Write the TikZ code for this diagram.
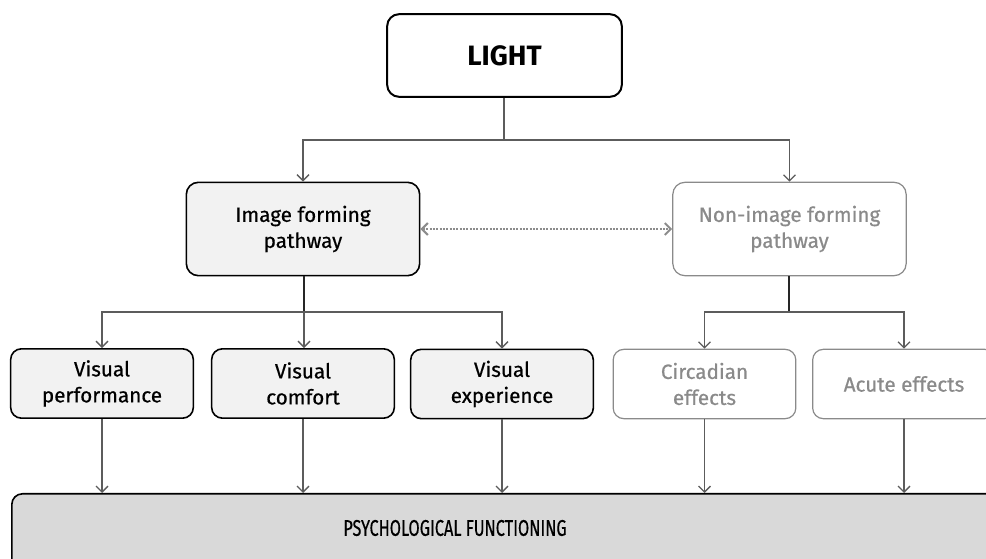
\documentclass[tikz,border=0pt]{standalone}
\usepackage{fontspec}
\setmainfont{Fira Sans}
\newfontfamily\medfont{Fira Sans}[FakeBold=0.6]
\newfontfamily\condfont{Fira Sans}[FakeStretch=0.72,FakeBold=0.4]
\usetikzlibrary{arrows.meta}

\definecolor{boxfill}{HTML}{F2F2F2}
\definecolor{psyfill}{HTML}{D9D9D9}
\definecolor{greytext}{HTML}{8A8A8A}
\definecolor{linegrey}{HTML}{5C5C5C}

\tikzset{every picture/.style={line width=0.75pt}}
\tikzset{
  topbox/.style={draw=black, line width=1.5pt, rounded corners=9pt, fill=white, inner sep=0pt,
    minimum width=176pt, minimum height=62pt, font=\fontsize{21}{24}\selectfont\bfseries},
  pathbox/.style={draw=black, line width=1.2pt, rounded corners=9pt, fill=boxfill, inner sep=0pt,
    minimum width=175pt, minimum height=70pt, align=center, font=\medfont\fontsize{15.5}{19.5}\selectfont},
  subbox/.style={pathbox, rounded corners=8pt, minimum width=137pt, minimum height=52pt},
  paleroot/.style={draw=greytext, line width=0.9pt, fill=white, text=greytext},
  psybox/.style={draw=black, line width=1.2pt, rounded corners=8pt, fill=psyfill, inner sep=0pt,
    minimum width=1000pt, minimum height=90pt},
  link/.style={draw=linegrey, line width=1pt, -{Straight Barb[length=4.5pt,width=9pt]}},
  plain/.style={draw=linegrey, line width=1pt},
  stem/.style={draw=black!85, line width=1.6pt},
  twoway/.style={draw=black!45, line width=1.5pt, densely dotted,
    {Straight Barb[length=4.5pt,width=9pt]}-{Straight Barb[length=4.5pt,width=9pt]}},
}

\begin{document}
\begin{tikzpicture}[x=0.75pt,y=0.75pt,yscale=-1,xscale=1]
	\useasboundingbox (0,0) rectangle (986,559);
	\clip (0,0) rectangle (986,559);
	% Top box
	\node [topbox] (light) at (504.5,55.5) {LIGHT};
	% Pathways
	\node [pathbox] (ifp) at (303,229) {Image forming\\pathway};
	\node [pathbox, paleroot] (nifp) at (789.5,229) {Non-image forming\\pathway};
	% Effects
	\node [subbox] (vperf) at (102,383.5) {Visual\\performance};
	\node [subbox] (vcomf) at (303,383.5) {Visual\\comfort};
	\node [subbox] (vexp) at (502,384) {Visual\\experience};
	\node [subbox, paleroot] (circ) at (704.5,384) {Circadian\\effects};
	\node [subbox, paleroot] (acute) at (904,384) {Acute effects};
	% Bottom box
	\node [psybox, anchor=north west] (psych) at (11,493) {};
	\node [font=\condfont\fontsize{17}{20}\selectfont, inner sep=0pt] (psytext) at (455,528) {PSYCHOLOGICAL FUNCTIONING};
	% Splits
	\coordinate (lsplit) at (504,140);
	\coordinate (isplit) at (304,312);
	\coordinate (nsplit) at (789,312);
	% Light to pathways
	\draw [plain] (light.south -| lsplit) -- (lsplit);
	\draw [link] (lsplit) -| (ifp.north);
	\draw [link] (lsplit) -| (nifp.north);
	\draw [twoway] (ifp.east) -- (nifp.west);
	% Image forming pathway to effects
	\draw [stem] (ifp.south -| isplit) -- (isplit);
	\draw [link] (isplit) -| (vperf.north);
	\draw [link] (isplit) -- (vcomf.north -| isplit);
	\draw [link] (isplit) -| (vexp.north);
	% Non-image forming pathway to effects
	\draw [stem] (nifp.south -| nsplit) -- (nsplit);
	\draw [link] (nsplit) -| (circ.north);
	\draw [link] (nsplit) -| (acute.north);
	% Effects to psychological functioning
	\foreach \n in {vperf,vcomf,vexp,circ,acute}
		\draw [link] (\n.south) -- (\n.south |- psych.north);
\end{tikzpicture}
\end{document}
